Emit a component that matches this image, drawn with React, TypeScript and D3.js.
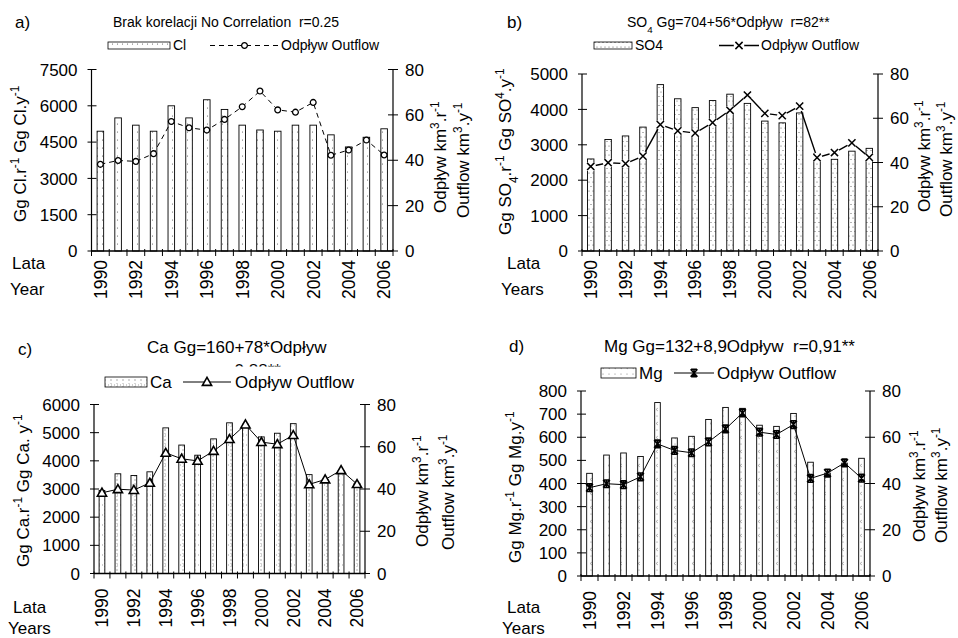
import React from 'react';
import * as d3 from 'd3';

const years = ['1990','1991','1992','1993','1994','1995','1996','1997','1998','1999','2000','2001','2002','2003','2004','2005','2006'];
const yearLabels = ['1990','1992','1994','1996','1998','2000','2002','2004','2006'];
const outflow = [38.2, 39.9, 39.5, 42.9, 57.1, 54.3, 53.3, 58.0, 63.6, 70.5, 62.2, 61.2, 65.5, 42.2, 44.5, 48.9, 42.3];
const clValues = [4950, 5500, 5200, 4950, 6000, 5500, 6250, 5850, 5200, 5000, 4950, 5200, 5200, 4800, 4300, 4700, 5050];
const so4Values = [2600, 3150, 3250, 3500, 4700, 4300, 4050, 4250, 4430, 4170, 3670, 3620, 3900, 2750, 2590, 2820, 2900];
const caValues = [2950, 3540, 3480, 3610, 5170, 4560, 4200, 4780, 5350, 5300, 4850, 4980, 5320, 3510, 3330, 3650, 3200];
const mgValues = [444, 523, 532, 517, 750, 597, 604, 677, 729, 725, 652, 647, 703, 492, 445, 488, 509];
const clTicks = [0, 1500, 3000, 4500, 6000, 7500];
const so4Ticks = [0, 1000, 2000, 3000, 4000, 5000];
const caTicks = [0, 1000, 2000, 3000, 4000, 5000, 6000];
const mgTicks = [0, 100, 200, 300, 400, 500, 600, 700, 800];
const outflowTicks = [0, 20, 40, 60, 80];

const FONT = 'Liberation Sans, Arial, sans-serif';

type MarkerType = 'circle' | 'x' | 'tri' | 'star';

function Marker({ type, x, y }: { type: MarkerType; x: number; y: number }) {
  const t = `translate(${x},${y})`;
  if (type === 'circle') {
    return <circle transform={t} r={2.9} fill="#fff" stroke="#000" strokeWidth={1.3} />;
  }
  if (type === 'x') {
    const d = 'M-3.6,-3.6L3.6,3.6M-3.6,3.6L3.6,-3.6';
    return (
      <g transform={t}>
        <circle r={5.2} fill="#fff" />
        <path d={d} stroke="#000" strokeWidth={1.5} fill="none" />
      </g>
    );
  }
  if (type === 'tri') {
    return <path transform={t} d="M0,-4.6L4.6,3.4L-4.6,3.4Z" fill="#fff" stroke="#000" strokeWidth={1.6} />;
  }
  return (
    <g transform={t}>
      <path d="M-3.4,-3.8L3.4,3.8M-3.4,3.8L3.4,-3.8M0,-4.2L0,4.2M-2.8,-3.8L2.8,-3.8M-2.8,3.8L2.8,3.8" stroke="#000" strokeWidth={1.6} fill="none" />
    </g>
  );
}

function Sup({ children }: { children: React.ReactNode }) {
  return <tspan baselineShift="super" fontSize="70%">{children}</tspan>;
}
function Sub({ children }: { children: React.ReactNode }) {
  return <tspan baselineShift="sub" fontSize="70%">{children}</tspan>;
}

interface PanelCfg {
  x0: number; x1: number; yTop: number; yBot: number; yMax: number;
  ticks: number[]; values: number[]; pattern: string; marker: MarkerType;
  dash?: string; lineW: number; barRatio: number; yearGap: number;
  leftLabel: React.ReactNode; leftX: number; leftBottom: number;
  rightX1: number; rightB1: number; rightX2: number; rightB2: number;
}

function Panel(p: PanelCfg) {
  const x = d3.scaleBand<string>().domain(years).range([p.x0, p.x1]).padding(0);
  const y = d3.scaleLinear().domain([0, p.yMax]).range([p.yBot, p.yTop]);
  const y2 = d3.scaleLinear().domain([0, 80]).range([p.yBot, p.yTop]);
  const bw = x.bandwidth() * p.barRatio;
  const cx = (yr: string) => (x(yr) as number) + x.bandwidth() / 2;
  const line = d3.line<number>().x((_, i) => cx(years[i])).y((d) => y2(d));
  const bounds = years.map((yr) => x(yr) as number).concat([p.x1]);
  return (
    <g>
      {p.values.map((v, i) => (
        <rect key={i} x={cx(years[i]) - bw / 2} y={y(v)} width={bw} height={p.yBot - y(v)}
          fill={`url(#${p.pattern})`} stroke="#000" strokeWidth={0.9} />
      ))}
      <line x1={p.x0} x2={p.x0} y1={p.yTop} y2={p.yBot} stroke="#000" strokeWidth={1.2} />
      <line x1={p.x1} x2={p.x1} y1={p.yTop} y2={p.yBot} stroke="#000" strokeWidth={1.2} />
      <line x1={p.x0} x2={p.x1} y1={p.yBot} y2={p.yBot} stroke="#000" strokeWidth={1.4} />
      {p.ticks.map((t) => (
        <g key={t}>
          <line x1={p.x0 - 4} x2={p.x0 + 5} y1={y(t)} y2={y(t)} stroke="#000" strokeWidth={1} />
          <text x={p.x0 - 14} y={y(t)} dy="0.36em" textAnchor="end" fontSize={17}>{t}</text>
        </g>
      ))}
      {outflowTicks.map((t) => (
        <g key={t}>
          <line x1={p.x1 - 5} x2={p.x1 + 5} y1={y2(t)} y2={y2(t)} stroke="#000" strokeWidth={1} />
          <text x={p.x1 + 12} y={y2(t)} dy="0.36em" textAnchor="start" fontSize={17}>{t}</text>
        </g>
      ))}
      {bounds.map((b, i) => (
        <line key={i} x1={b} x2={b} y1={p.yBot - 2} y2={p.yBot + 5} stroke="#000" strokeWidth={1} />
      ))}
      <path d={line(outflow) || ''} fill="none" stroke="#000" strokeWidth={p.lineW} strokeDasharray={p.dash} />
      {outflow.map((v, i) => (
        <Marker key={i} type={p.marker} x={cx(years[i])} y={y2(v)} />
      ))}
      {yearLabels.map((yr) => (
        <text key={yr} transform={`translate(${cx(yr)},${p.yBot + p.yearGap}) rotate(-90)`} dy="0.36em"
          textAnchor="end" fontSize={17.5}>{yr}</text>
      ))}
      <text transform={`translate(${p.leftX},${p.leftBottom}) rotate(-90)`} dy="0.36em" textAnchor="start" fontSize={17}>
        {p.leftLabel}
      </text>
      <text transform={`translate(${p.rightX1},${p.rightB1}) rotate(-90)`} dy="0.36em" textAnchor="start" fontSize={17}>
        Odpływ km<Sup>3</Sup>.r<Sup>-1</Sup>
      </text>
      <text transform={`translate(${p.rightX2},${p.rightB2}) rotate(-90)`} dy="0.36em" textAnchor="start" fontSize={17}>
        Outflow km<Sup>3</Sup>.y<Sup>-1</Sup>
      </text>
    </g>
  );
}

function Legend({ sx, sy, sw, sh, pattern, label, lx0, lx1, ly, marker, dash, lineW, tx, fs }: any) {
  return (
    <g>
      <rect x={sx} y={sy} width={sw} height={sh} fill={`url(#${pattern})`} stroke="#000" strokeWidth={0.8} />
      <text x={sx + sw + 3} y={sy + sh + 1} fontSize={fs}>{label}</text>
      <line x1={lx0} x2={lx1} y1={ly} y2={ly} stroke="#000" strokeWidth={lineW} strokeDasharray={dash} />
      <Marker type={marker} x={(lx0 + lx1) / 2} y={ly} />
      <text x={tx} y={sy + sh + 1} fontSize={fs}>Odpływ Outflow</text>
    </g>
  );
}

export default function App() {
  return (
    <svg width={958} height={638} style={{ position: 'absolute', left: 0, top: 0, background: '#fff' }}
      fontFamily={FONT} fill="#000">
      <defs>
        <pattern id="patA" patternUnits="userSpaceOnUse" width={5} height={8}>
          <rect width={5} height={8} fill="#fff" />
          <circle cx={2.5} cy={4} r={0.55} fill="#555" />
        </pattern>
        <pattern id="patB" patternUnits="userSpaceOnUse" width={4} height={9}>
          <rect width={4} height={9} fill="#fff" />
          <circle cx={1} cy={2} r={0.55} fill="#555" />
          <circle cx={3} cy={6.5} r={0.55} fill="#555" />
        </pattern>
        <pattern id="patC" patternUnits="userSpaceOnUse" width={6} height={10}>
          <rect width={6} height={10} fill="#fff" />
          <line x1={3} x2={3} y1={0} y2={10} stroke="#888" strokeWidth={0.7} strokeDasharray="1,2" />
          <line x1={0} x2={6} y1={5} y2={5} stroke="#777" strokeWidth={0.7} strokeDasharray="1,2" />
        </pattern>
        <pattern id="patD" patternUnits="userSpaceOnUse" width={6} height={14}>
          <rect width={6} height={14} fill="#fff" />
          <path d="M4,2L2,3.5L4,5" stroke="#888" strokeWidth={0.6} fill="none" />
          <circle cx={3} cy={10} r={0.5} fill="#666" />
        </pattern>
        <clipPath id="cutTitle">
          <rect x={0} y={355} width={479} height={11.5} />
        </clipPath>
      </defs>

      {/* Panel a */}
      <text x={15} y={28} fontSize={17}>a)</text>
      <text x={113} y={27} fontSize={14} style={{ whiteSpace: 'pre' }}>Brak korelacji No Correlation  r=0.25</text>
      <Legend sx={108} sy={42} sw={62} sh={7} pattern="patA" label="Cl" lx0={210} lx1={279} ly={45.5}
        marker="circle" dash="5,4" lineW={1} tx={281} fs={14} />
      <Panel x0={91.5} x1={393} yTop={69.5} yBot={251} yMax={7500} ticks={clTicks} values={clValues}
        pattern="patA" marker="circle" dash="5,4" lineW={1} barRatio={0.37} yearGap={9}
        leftLabel={<>Gg Cl.r<Sup>-1</Sup> Gg Cl.y<Sup>-1</Sup></>} leftX={20} leftBottom={222}
        rightX1={440} rightB1={213} rightX2={463} rightB2={218} />
      <text x={12} y={269} fontSize={17}>Lata</text>
      <text x={10} y={295} fontSize={17}>Year</text>

      {/* Panel b */}
      <text x={507} y={28} fontSize={17}>b)</text>
      <text x={627} y={27} fontSize={14} style={{ whiteSpace: 'pre' }}>SO<Sub>4</Sub> Gg=704+56*Odpływ  r=82**</text>
      <Legend sx={594} sy={42} sw={38} sh={7} pattern="patB" label="SO4" lx0={719} lx1={759} ly={45.5}
        marker="x" lineW={1.4} tx={761} fs={14} />
      <Panel x0={582} x1={878} yTop={74} yBot={251} yMax={5000} ticks={so4Ticks} values={so4Values}
        pattern="patB" marker="x" lineW={1.4} barRatio={0.37} yearGap={9}
        leftLabel={<>Gg SO<Sub>4</Sub>.r<Sup>-1</Sup> Gg SO<Sup>4</Sup>.y<Sup>-1</Sup></>} leftX={505} leftBottom={235}
        rightX1={924} rightB1={212} rightX2={946} rightB2={217} />
      <text x={507} y={269} fontSize={17}>Lata</text>
      <text x={501} y={295} fontSize={17}>Years</text>

      {/* Panel c */}
      <text x={18} y={355} fontSize={17}>c)</text>
      <text x={147} y={353} fontSize={17}>Ca Gg=160+78*Odpływ</text>
      <g clipPath="url(#cutTitle)">
        <text x={250} y={376} fontSize={17} textAnchor="middle">r=0,88**</text>
      </g>
      <Legend sx={105} sy={377} sw={42} sh={10} pattern="patC" label="Ca" lx0={183} lx1={231} ly={382}
        marker="tri" lineW={1} tx={235} fs={17} />
      <Panel x0={94} x1={365} yTop={404.5} yBot={573.5} yMax={6000} ticks={caTicks} values={caValues}
        pattern="patC" marker="tri" lineW={1} barRatio={0.36} yearGap={15}
        leftLabel={<>Gg Ca.r<Sup>-1</Sup> Gg Ca. y<Sup>-1</Sup></>} leftX={23} leftBottom={567}
        rightX1={422} rightB1={547} rightX2={448} rightB2={550} />
      <text x={13} y={613} fontSize={17}>Lata</text>
      <text x={8} y={634} fontSize={17}>Years</text>

      {/* Panel d */}
      <text x={509} y={352} fontSize={17}>d)</text>
      <text x={604} y={352} fontSize={17} style={{ whiteSpace: 'pre' }}>Mg Gg=132+8,9Odpływ  r=0,91**</text>
      <Legend sx={601} sy={368} sw={35} sh={10} pattern="patD" label="Mg" lx0={674} lx1={714} ly={373}
        marker="star" lineW={1} tx={717} fs={17} />
      <Panel x0={581} x1={870} yTop={391} yBot={576} yMax={800} ticks={mgTicks} values={mgValues}
        pattern="patD" marker="star" lineW={1} barRatio={0.33} yearGap={15}
        leftLabel={<>Gg Mg.r<Sup>-1</Sup> Gg Mg.y<Sup>-1</Sup></>} leftX={515} leftBottom={563}
        rightX1={919} rightB1={542} rightX2={941} rightB2={543} />
      <text x={507} y={613} fontSize={17}>Lata</text>
      <text x={502} y={634} fontSize={17}>Years</text>
    </svg>
  );
}
